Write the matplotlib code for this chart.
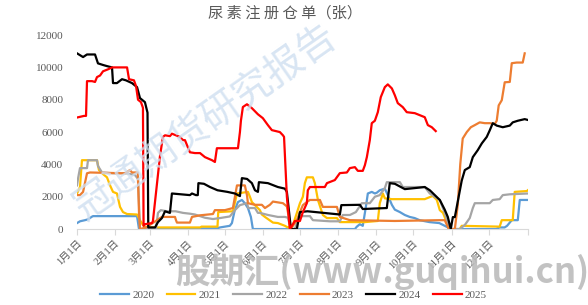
import matplotlib
matplotlib.use("Agg")
import matplotlib.pyplot as plt
import numpy as np

plt.rcParams['font.family'] = ['Liberation Serif', 'Noto Sans CJK SC']

# 日期按年内天数 (1月1日 = 0)，数值单位：张
month_days = [0, 31, 59, 90, 120, 151, 181, 212, 243, 273, 304, 334]
month_labels = ['1月1日', '2月1日', '3月1日', '4月1日', '5月1日', '6月1日',
                '7月1日', '8月1日', '9月1日', '10月1日', '11月1日', '12月1日']

s2020 = [(0, 370), (2.4, 480), (6.5, 550), (8.9, 600), (12.2, 770), (13, 800),
         (48.7, 800), (50.3, 0), (56, 0), (114, 50), (116, 100), (120, 150), (124, 200),
         (125.7, 370), (128, 1170), (130.6, 1670), (133.8, 1800), (136.2, 1600),
         (138.7, 1300), (141.1, 750), (142.7, 0), (225.5, 0), (227.1, 150), (229.5, 300),
         (231.9, 200), (234.4, 1370), (236, 2200), (239.2, 2300), (241.7, 2200),
         (243.3, 2250), (245.7, 2400), (249.8, 2500), (252.2, 2100), (255.5, 1500),
         (257.9, 1200), (262, 1050), (266, 870), (270, 750), (274, 680), (278, 550),
         (286, 430), (294, 370), (301, 100), (302.5, 0), (340, 0), (343, 100),
         (347, 100), (349, 200), (352.8, 550), (357.7, 550), (359.3, 1800), (365.8, 1800)]

s2021 = [(0, 2200), (2.4, 2600), (4, 4260), (16.2, 4260), (17.8, 3650), (21.1, 3400),
         (24.3, 3200), (26.8, 2700), (29.2, 2300), (32.4, 2200), (34.9, 1370),
         (37.3, 1050), (40.6, 930), (48.7, 900), (51.1, 550), (53.5, 250), (56, 100),
         (100, 100), (101, 150), (114, 150), (114.6, 1050), (126.5, 1100), (129.8, 2200),
         (138.7, 2300), (140.3, 2000), (141.9, 1670), (144.4, 1480), (148.4, 1170),
         (150, 900), (152.5, 750), (159, 400), (163, 370), (168.7, 200), (171.1, 100),
         (175.2, 250), (178.4, 1000), (180.9, 1600), (183.3, 2000), (184.9, 2840),
         (186.5, 3200), (191.4, 3200), (193, 2840), (195.5, 1800), (199.5, 870),
         (202.8, 680), (210.9, 680), (213.3, 430), (233.6, 430), (244.1, 500),
         (245.7, 1600), (248.2, 2200), (249.8, 1900), (255.5, 1850), (282.2, 1850),
         (288.7, 2050), (292, 1800), (294.4, 1170), (297, 1000), (300.9, 250),
         (302.5, 0), (310.6, 0), (312.2, 200), (343, 150), (344.7, 550), (353.6, 550),
         (355.2, 2300), (365, 2350), (365.8, 2400)]

s2022 = [(0, 2700), (1, 3200), (2.4, 3770), (8.1, 3770), (8.9, 4260), (16.2, 4260),
         (17, 3900), (20.3, 3500), (29, 3450), (40, 3450), (47, 3340), (49.5, 3100),
         (51.1, 0), (64, 0), (65.7, 1000), (68, 1170), (73, 1100), (80, 1100), (86, 1000),
         (91.6, 950), (95.7, 900), (99.8, 800), (103.8, 700), (110.3, 620), (116, 680),
         (124, 780), (128.1, 1170), (132.2, 1480), (137.9, 1600), (139, 1300),
         (144.4, 1300), (146.8, 1000), (148.4, 1000), (155, 870), (163, 750), (168.7, 750),
         (171.1, 700), (173.6, 0), (176.8, 0), (178.4, 370), (180.9, 800), (189, 800),
         (191.4, 550), (205.2, 480), (213.3, 480), (215.7, 870), (221.4, 870),
         (226.3, 1050), (231.1, 1600), (237.6, 1600), (241.7, 2000), (245.7, 2100),
         (249.8, 2530), (251.4, 2900), (262, 2900), (264.4, 2600), (282.2, 2600),
         (286.3, 2200), (294.4, 1800), (298.4, 1000), (302.5, 0), (310.6, 0),
         (314.7, 250), (318.7, 680), (321.2, 1300), (322.8, 1600), (334.9, 1600),
         (337.4, 1800), (343, 1850), (345.5, 2100), (351.2, 2150), (365.8, 2200)]

s2023 = [(0, 2100), (2.4, 2100), (4.9, 2300), (8.1, 3450), (10.5, 3500), (38.9, 3450),
         (43, 3650), (44.6, 3500), (49.3, 3500), (50.3, 1000), (51.1, 0), (56, 100),
         (64.9, 550), (68.9, 750), (79.5, 750), (80.3, 550), (81.1, 400), (91.6, 400),
         (93.3, 750), (99.8, 850), (110.3, 930), (111.9, 1170), (120, 1170),
         (126.5, 1300), (129.8, 2700), (136.2, 2700), (137.9, 2100), (138.7, 1600),
         (144.4, 1500), (150, 1500), (152.5, 1300), (156.5, 1500), (159, 1700),
         (167.1, 1600), (170.3, 1400), (173.6, 0), (175.2, 200), (178.4, 550),
         (180.9, 1050), (183.3, 1480), (186.5, 1670), (189, 1800), (197.1, 1800),
         (199.5, 1370), (210.9, 1370), (213.3, 750), (221.4, 550), (257.9, 500),
         (294.4, 550), (298.4, 550), (301.7, 0), (306.6, 0), (308.2, 1000), (309, 1500),
         (311, 4000), (313, 5600), (316.3, 6000), (319.6, 6300), (322.8, 6430),
         (326.8, 6600), (330.9, 6550), (334.9, 6550), (339, 6500), (340.6, 6700),
         (342.2, 7650), (344.7, 7970), (347.1, 9080), (351.2, 9100), (352.8, 10260),
         (356.8, 10300), (359.3, 10300), (361.7, 10300), (363.3, 10870)]

s2024 = [(0, 10870), (4.9, 10640), (8.1, 10800), (14.6, 10800), (17, 10250),
         (21.1, 10150), (24.3, 10080), (28.4, 10000), (29.2, 9030), (32.4, 9030),
         (36.5, 9270), (39.7, 9200), (44.6, 9030), (48.7, 8780), (51.1, 8100),
         (55.1, 7850), (57.2, 7200), (57.8, 100), (63.3, 100), (65.7, 430), (68.9, 680),
         (71.4, 1100), (75.4, 1000), (77, 2200), (91.6, 2100), (93.3, 2200), (96.5, 2100),
         (98, 2100), (98.5, 2840), (103, 2800), (107.9, 2600), (114, 2400), (122, 2300),
         (128.1, 2200), (132.2, 2040), (133.8, 3150), (138, 3100), (141.9, 2840),
         (144.4, 2400), (146.8, 2300), (147.6, 2900), (154.9, 2840), (163, 2600),
         (168.7, 2500), (170.3, 2300), (173.6, 0), (178.4, 0), (180.9, 1050), (187, 1100),
         (213.3, 900), (214.5, 1480), (229.5, 1500), (231.9, 1240), (251.4, 1300),
         (253.8, 2840), (257.9, 2800), (266, 2470), (282.2, 2600), (286.3, 2400),
         (294.4, 1800), (298.4, 1200), (300.9, 750), (303.3, 0), (305, 740),
         (306.6, 740), (312.2, 3000), (314.7, 3650), (318.7, 3830), (321.2, 4450),
         (325.2, 4880), (328.5, 5300), (332.5, 5700), (334.9, 6100), (337.4, 6550),
         (340.6, 6400), (345.5, 6300), (351.2, 6400), (353.6, 6600), (357.7, 6700),
         (363.3, 6800), (365.8, 6750)]

s2025 = [(0, 6900), (5.7, 7000), (7.3, 7000), (8.1, 9150), (12.2, 9150), (14.6, 9100),
         (16.2, 9400), (18.7, 9500), (21.1, 9760), (25.1, 9880), (28.4, 10000),
         (40.6, 10000), (42.2, 9270), (46.2, 9200), (47.9, 8840), (49.5, 8000),
         (51.9, 7850), (53.5, 7500), (54, 200), (55.1, 300), (60.8, 370), (61.6, 500),
         (67.3, 4500), (69.7, 5700), (71.4, 5800), (75.4, 5750), (77, 5900), (83.5, 5700),
         (86, 5500), (87.6, 5500), (91.6, 4750), (95.7, 4700), (99.8, 4700),
         (103.8, 4450), (109.5, 4260), (111.9, 4150), (113.5, 5000), (130.6, 5000),
         (132.2, 6000), (133, 6700), (134.6, 7550), (137.9, 7720), (141.9, 7480),
         (146.8, 7100), (150.8, 6860), (154.9, 6430), (158.1, 6120), (164.6, 6000),
         (167.1, 5800), (168, 5700), (170.3, 2000), (172.7, 0), (174.4, 200),
         (176.8, 500), (180.9, 500), (183.3, 1050), (186.5, 1600), (187.3, 2400),
         (189, 2600), (201.1, 2600), (202.8, 2840), (209.2, 3030), (213.3, 3460),
         (219, 3500), (221.4, 3770), (225.5, 3830), (227.9, 3600), (231.9, 3600),
         (233.6, 3950), (235.2, 4450), (237.6, 5500), (239.2, 6550), (241.7, 6700),
         (244.1, 7230), (246.5, 8160), (249.8, 8780), (252.2, 8950), (255.5, 8700),
         (257.9, 8280), (260.3, 7790), (264.4, 7540), (267.6, 7230), (274.1, 7170),
         (282.2, 6920), (284.7, 6430), (287.9, 6300), (291.1, 6060)]

series = [('2020', s2020, '#5B9BD5'), ('2021', s2021, '#FFC000'),
          ('2022', s2022, '#A5A5A5'), ('2023', s2023, '#ED7D31'),
          ('2024', s2024, '#000000'), ('2025', s2025, '#FF0000')]

fig = plt.figure(figsize=(5.88, 3.05), dpi=100)
ax = fig.add_axes([0.131, 0.249, 0.767, 0.636])

for name, pts, color in series:
    d = np.array(pts)
    ax.plot(d[:, 0], d[:, 1], color=color, lw=1.6, label=name)

ax.set_xlim(0, 366)
ax.set_ylim(0, 12000)
ax.set_yticks(range(0, 12001, 2000))
ax.set_xticks(month_days + [366])
ax.set_xticklabels(month_labels + [''], rotation=45, ha='right',
                   rotation_mode='anchor', fontsize=7.5, color='#595959')
ax.tick_params(axis='y', length=0, pad=10, labelsize=8, labelcolor='#595959')
ax.tick_params(axis='x', length=4, color='#d9d9d9', pad=3)
for s in ['top', 'right', 'left']:
    ax.spines[s].set_visible(False)
ax.spines['bottom'].set_color('#d9d9d9')

fig.text(0.485, 0.957, '尿 素 注 册 仓 单（张）', ha='center', va='center',
         fontsize=11, color='#595959', family=['Noto Sans CJK SC'])

ax.legend(loc='center', bbox_to_anchor=(0.48, -0.34), ncol=6, frameon=False,
          fontsize=8, handlelength=2.6, handletextpad=0.3, columnspacing=1.1,
          labelcolor='#595959')

# 水印
fig.text(0.35, 0.6, '冠通期货研究报告', rotation=35, ha='center', va='center',
         fontsize=28, color='#cfdff0', alpha=0.8, family=['Noto Sans CJK SC'],
         zorder=0)
fig.text(0.65, 0.108, '股期汇(www.guqihui.cn)', ha='center', va='center',
         fontsize=25, color='#bcbcbc', weight='bold', style='italic',
         family=['Noto Sans CJK SC', 'DejaVu Sans'], alpha=0.9)

fig.savefig('out.png', dpi=100)
